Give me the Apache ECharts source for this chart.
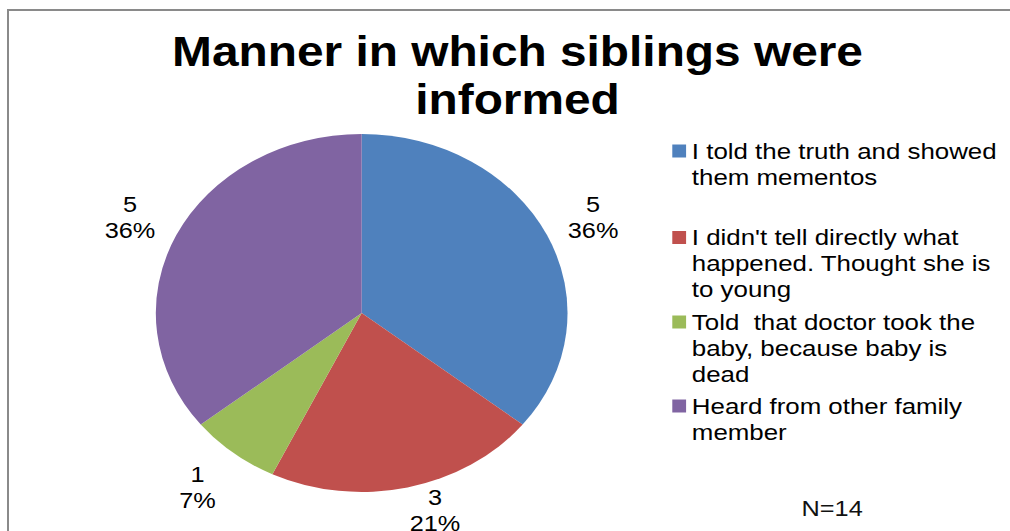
<!DOCTYPE html>
<html>
<head>
<meta charset="utf-8">
<script src="https://cdn.jsdelivr.net/npm/echarts@6/dist/echarts.min.js"></script>
<style>
  html, body { margin: 0; padding: 0; background: #fff; }
  #wrap { position: relative; width: 1010px; height: 531px; overflow: hidden; }
  #frame {
    position: absolute; left: 7px; top: 9px; width: 1100px; height: 600px;
    border-top: 2px solid #8a8a8a; border-left: 2px solid #8a8a8a;
  }
  /* the source picture is a stretched office chart, so the whole chart is widened the same way */
  #main {
    position: absolute; left: 0; top: 0; width: 878px; height: 531px;
    transform: scaleX(1.15); transform-origin: 0 0;
  }
</style>
</head>
<body>
<div id="wrap">
  <div id="frame"></div>
  <div id="main"></div>
</div>
<script>
// data
const chartTitle = 'Manner in which siblings were\ninformed';
const note = 'N=14';
const categories = [
  'I told the truth and showed\nthem mementos',
  "I didn't tell directly what\nhappened. Thought she is\nto young",
  'Told  that doctor took the\nbaby, because baby is\ndead',
  'Heard from other family\nmember'
];
const counts = [5, 3, 1, 5];

// styles
const colors = ['#4f81bd', '#c0504d', '#9bbb59', '#8064a2'];
const fontFamily = '"Liberation Sans", Arial, sans-serif';
// where the office chart put each value label (centre of the label block, unscaled px)
const labelPos = [[515.7, 218], [378.3, 510.8], [171.7, 487.8], [113, 218]];
const legendTops = [112, 172.5, 257, 367];
const legendLineHeight = 26;

var myChart = echarts.init(document.getElementById('main'), null, { renderer: 'svg' });

// one legend per entry: the office legend keeps the square on the first line
const legends = categories.map((name, i) => {
  const lines = name.split('\n').length;
  return {
    data: [name],
    orient: 'vertical',
    left: 584.6,
    top: legendTops[i],
    padding: 0,
    selectedMode: false,
    icon: 'rect',
    itemWidth: 12,
    itemHeight: 13,
    formatter: function (n) {
      return '\n'.repeat(lines - 1) + n;
    },
    textStyle: {
      fontFamily: fontFamily,
      fontSize: 22.5,
      lineHeight: legendLineHeight,
      color: '#000'
    }
  };
});

var option = {
  animation: false,
  color: colors,
  title: [
    {
      text: chartTitle,
      left: 450,
      top: 27,
      padding: 0,
      textAlign: 'center',
      textStyle: {
        fontFamily: fontFamily,
        fontSize: 41.6,
        fontWeight: 'bold',
        lineHeight: 48,
        color: '#000'
      }
    },
    {
      text: note,
      left: 697,
      top: 496,
      padding: 0,
      textStyle: {
        fontFamily: fontFamily,
        fontSize: 22,
        fontWeight: 'normal',
        lineHeight: 26,
        color: '#111'
      }
    }
  ],
  legend: legends,
  series: [
    {
      type: 'pie',
      center: [314.5, 313],
      radius: 179,
      startAngle: 90,
      clockwise: true,
      avoidLabelOverlap: false,
      percentPrecision: 0,
      itemStyle: { borderWidth: 0 },
      label: {
        show: true,
        position: 'outside',
        formatter: '{v|{c}}\n{v|{d}%}',
        rich: {
          v: {
            align: 'center',
            fontFamily: fontFamily,
            fontSize: 22,
            lineHeight: 26,
            color: '#000'
          }
        }
      },
      labelLine: { show: false },
      labelLayout: function (params) {
        const p = labelPos[params.dataIndex];
        return { x: p[0], y: p[1], align: 'center', verticalAlign: 'middle' };
      },
      emphasis: { disabled: true },
      data: categories.map((name, i) => ({ name: name, value: counts[i] }))
    }
  ]
};

myChart.setOption(option);
</script>
</body>
</html>
